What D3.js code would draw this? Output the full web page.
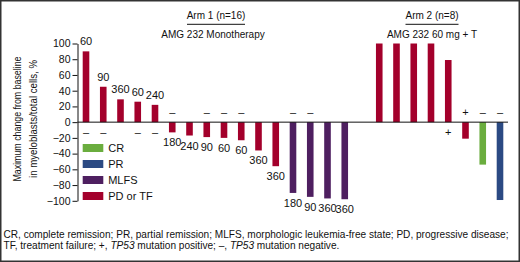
<!DOCTYPE html>
<html>
<head>
<meta charset="utf-8">
<script src="https://cdn.jsdelivr.net/npm/d3@7"></script>
<style>
    body { margin: 0; background: #fff; }
    svg { display: block; font-family: "Liberation Sans", Arial, Helvetica, sans-serif; }
</style>
</head>
<body>
<svg class="chart" width="520" height="262"></svg>
<script>
// patients, in plotted order (arm 1 then arm 2)
let patient_ids = ["p1", "p2", "p3", "p4", "p5", "p6", "p7", "p8", "p9", "p10", "p11", "p12", "p13", "p14", "p15", "p16",
    "p17", "p18", "p19", "p20", "p21", "p22", "p23", "p24"]
let arms = [1, 1, 1, 1, 1, 1, 1, 1, 1, 1, 1, 1, 1, 1, 1, 1, 2, 2, 2, 2, 2, 2, 2, 2]
let max_change = [90, 45, 29, 26, 22, -13, -17, -19, -20, -23, -36, -56, -90, -95, -97, -98,
    100, 100, 100, 100, 79, -21, -54, -99]
let responses = ["PD or TF", "PD or TF", "PD or TF", "PD or TF", "PD or TF", "PD or TF", "PD or TF", "PD or TF",
    "PD or TF", "PD or TF", "PD or TF", "PD or TF", "MLFS", "MLFS", "MLFS", "MLFS",
    "PD or TF", "PD or TF", "PD or TF", "PD or TF", "PD or TF", "PD or TF", "CR", "PR"]
let dose_labels = ["60", "90", "360", "60", "240", "180", "240", "90", "60", "60", "360", "360", "180", "90", "360", "360",
    "", "", "", "", "", "", "", ""]
let tp53 = ["–", "–", "", "–", "–", "–", "", "–", "–", "–", "", "", "–", "–", "", "",
    "", "", "", "", "+", "+", "–", "–"]

let legend_keys = ["CR", "PR", "MLFS", "PD or TF"]
let legend_colors = ["#6aad3e", "#2b4a83", "#4e1f60", "#a3002b"]
let y_ticks = [100, 80, 60, 40, 20, 0, -20, -40, -60, -80, -100]

let arm_titles = ["Arm 1 (n=16)", "Arm 2 (n=8)"]
let arm_subtitles = ["AMG 232 Monotherapy", "AMG 232 60 mg + T"]

let svg = d3.select(".chart")

let color = d3.scaleOrdinal().domain(legend_keys).range(legend_colors)

// x slots, with one empty slot between the two arms
let slots = patient_ids.slice(0, 16).concat(["gap"], patient_ids.slice(16))
let x = d3.scalePoint().domain(slots).range([86, 500])
let y = d3.scaleLinear().domain([-100, 100]).range([200.8, 43.5])
let bar_w = 6.6

let data = patient_ids.map((id, i) => {
    return {id: id, arm: arms[i], value: max_change[i], response: responses[i], dose: dose_labels[i], sign: tp53[i]}
})

// frame
svg.append("rect")
    .attr("x", 0.75).attr("y", 0.75)
    .attr("width", 518.5).attr("height", 260.5)
    .attr("fill", "none")
    .attr("stroke", "#333")
    .attr("stroke-width", 1.5)

// y axis
let y_axis = svg.append("g")
    .attr("transform", "translate(77.5,0)")
    .call(d3.axisLeft(y).tickValues(y_ticks).tickSize(5).tickSizeOuter(0).tickPadding(2))
y_axis.selectAll("text").attr("font-size", 10.5).attr("font-family", "Liberation Sans, Arial, sans-serif").attr("fill", "#111")
y_axis.selectAll("line, path").attr("stroke", "#111")

// axis title, condensed
let title_lines = ["Maximum change from baseline", "in myeloblasts/total cells, %"]
svg.selectAll("text.ytitle")
    .data(title_lines)
    .enter().append("text")
    .classed("ytitle", true)
    .attr("transform", (d, i) => "translate(" + (20.5 + i * 16) + ",119) rotate(-90)")
    .attr("text-anchor", "middle")
    .attr("font-size", 11)
    .attr("textLength", (d, i) => i == 0 ? 125 : 118)
    .attr("lengthAdjust", "spacingAndGlyphs")
    .attr("fill", "#111")
    .text(d => d)

// bars
svg.selectAll("rect.bar")
    .data(data)
    .enter().append("rect")
    .classed("bar", true)
    .attr("x", d => x(d.id) - bar_w / 2)
    .attr("y", d => y(Math.max(0, d.value)))
    .attr("width", bar_w)
    .attr("height", d => Math.abs(y(d.value) - y(0)))
    .attr("fill", d => color(d.response))

// zero line
svg.append("line")
    .attr("x1", 77.5).attr("x2", 508)
    .attr("y1", y(0)).attr("y2", y(0))
    .attr("stroke", "#111")
    .attr("stroke-width", 1)

// dose labels at bar ends
svg.selectAll("text.dose")
    .data(data.filter(d => d.dose != ""))
    .enter().append("text")
    .classed("dose", true)
    .attr("x", d => x(d.id))
    .attr("y", d => d.value > 0 ? y(d.value) - 6 : y(d.value) + 14)
    .attr("text-anchor", "middle")
    .attr("font-size", 11)
    .attr("fill", "#111")
    .text(d => d.dose)

// TP53 marks, on the other side of the zero line
svg.selectAll("text.sign")
    .data(data.filter(d => d.sign != ""))
    .enter().append("text")
    .classed("sign", true)
    .attr("x", d => x(d.id))
    .attr("y", d => d.value > 0 ? y(0) + 13.5 : y(0) - 6.5)
    .attr("text-anchor", "middle")
    .attr("font-size", 11)
    .attr("fill", "#111")
    .text(d => d.sign)

// legend
let legend = svg.selectAll("g.legend")
    .data(legend_keys)
    .enter().append("g")
    .classed("legend", true)
    .attr("transform", (d, i) => "translate(82.7," + (144 + i * 16) + ")")
legend.append("rect")
    .attr("width", 20.6).attr("height", 8)
    .attr("fill", d => color(d))
legend.append("text")
    .attr("x", 25.5).attr("y", 8.3)
    .attr("font-size", 11)
    .attr("fill", "#111")
    .text(d => d)

// arm headers
let arm_x = [216, 432]
let header = svg.selectAll("g.arm")
    .data(arm_titles)
    .enter().append("g")
    .classed("arm", true)
    .attr("transform", (d, i) => "translate(" + arm_x[i] + ",0)")
header.append("text")
    .attr("y", 18.5)
    .attr("text-anchor", "middle")
    .attr("font-size", 10)
    .attr("fill", "#111")
    .text(d => d)
header.append("line")
    .attr("x1", (d, i) => i == 0 ? -29 : -26.5)
    .attr("x2", (d, i) => i == 0 ? 29 : 26.5)
    .attr("y1", 24.3).attr("y2", 24.3)
    .attr("stroke", "#111")
header.append("text")
    .attr("y", 38)
    .attr("x", (d, i) => i == 0 ? -3 : 0)
    .attr("text-anchor", "middle")
    .attr("font-size", 10)
    .attr("fill", "#111")
    .text((d, i) => arm_subtitles[i])

// caption
svg.append("text")
    .attr("x", 3.5).attr("y", 237.5)
    .attr("font-size", 10.1)
    .attr("textLength", 505)
    .attr("lengthAdjust", "spacingAndGlyphs")
    .attr("fill", "#111")
    .text("CR, complete remission; PR, partial remission; MLFS, morphologic leukemia-free state; PD, progressive disease;")
let cap2 = svg.append("text")
    .attr("x", 3.5).attr("y", 248.5)
    .attr("font-size", 10.1)
    .attr("fill", "#111")
cap2.append("tspan").text("TF, treatment failure; +, ")
cap2.append("tspan").attr("font-style", "italic").text("TP53")
cap2.append("tspan").text(" mutation positive; –, ")
cap2.append("tspan").attr("font-style", "italic").text("TP53")
cap2.append("tspan").text(" mutation negative.")
</script>
</body>
</html>
